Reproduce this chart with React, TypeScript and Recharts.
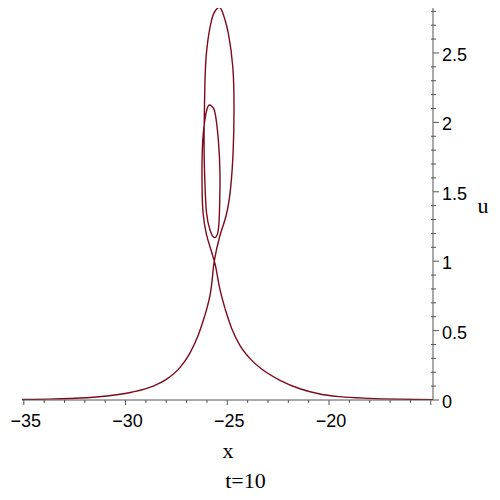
import React from "react";
import { LineChart, Line, XAxis, YAxis } from "recharts";

// u(x) at t=10, split into the left tail, the looped middle part and the right tail
const leftX = [-35.09, -33.5, -31.6, -29.7, -28.64, -27.98, -27.32, -26.83, -26.43, -26.1];
const leftU = [0.004, 0.008, 0.02, 0.056, 0.1, 0.15, 0.235, 0.34, 0.466, 0.61];

const loopX = [
  -26.1, -25.85, -25.72, -25.64, -25.38, -25.05, -24.83, -24.71, -24.67, -24.73, -24.95,
  -25.11, -25.24, -25.39, -25.57, -25.77, -26.01, -26.1, -26.13, -26.14, -26.1, -26.02,
  -25.85, -25.65, -25.46, -25.39, -25.37, -25.36, -25.44, -25.6, -25.73, -25.85,
  -26.01, -26.18, -26.24, -26.24, -26.19, -26.02, -25.8, -25.64, -25.54, -25.37, -25.11,
];
const loopU = [
  0.61, 0.754, 0.9, 1.0, 1.174, 1.333, 1.537, 1.801, 2.089, 2.401, 2.642,
  2.738, 2.795, 2.829, 2.808, 2.738, 2.522, 2.282, 2.041, 1.801, 1.561, 1.347,
  1.225, 1.171, 1.21, 1.333, 1.441, 1.633, 1.873, 2.066, 2.111, 2.125,
  2.089, 1.921, 1.729, 1.537, 1.347, 1.189, 1.081, 1.0, 0.937, 0.802, 0.658,
];

const rightX = [
  -25.11, -24.78, -24.38, -23.88, -23.23, -22.41, -21.43, -20.45, -19.47, -18.0, -16.5,
  -14.89,
];
const rightU = [
  0.658, 0.514, 0.394, 0.298, 0.214, 0.142, 0.081, 0.043, 0.024, 0.012, 0.006, 0.003,
];

const xTicks = [
  -35, -34, -33, -32, -31, -30, -29, -28, -27, -26, -25, -24, -23, -22, -21, -20,
  -19, -18, -17, -16, -15,
];
const xLabelled = [-35, -30, -25, -20];
const yTicks = [
  0, 0.1, 0.2, 0.3, 0.4, 0.5, 0.6, 0.7, 0.8, 0.9, 1, 1.1, 1.2, 1.3, 1.4, 1.5, 1.6,
  1.7, 1.8, 1.9, 2, 2.1, 2.2, 2.3, 2.4, 2.5, 2.6, 2.7, 2.8,
];

const toPoints = (xs: number[], us: number[]) => xs.map((x, i) => ({ x, u: us[i] }));
const leftData = toPoints(leftX, leftU);
const loopData = toPoints(loopX, loopU);
const rightData = toPoints(rightX, rightU);

const AXIS = "#555";
const CURVE = "#7c0a1c";

const XTick = ({ x, y, payload }: any) => {
  const v = payload.value;
  const major = v % 5 === 0;
  return (
    <g>
      <line x1={x} y1={y} x2={x} y2={y + (major ? 5 : 3)} stroke={AXIS} />
      {xLabelled.includes(v) && (
        <text
          x={x + 2}
          y={y + 27}
          textAnchor="middle"
          fontFamily="Liberation Sans, Arial, sans-serif"
          fontSize={18}
          fill="#000"
        >
          {"\u2212" + Math.abs(v)}
        </text>
      )}
    </g>
  );
};

const YTick = ({ x, y, payload }: any) => {
  const v = payload.value;
  const major = Math.abs(v * 2 - Math.round(v * 2)) < 1e-6;
  return (
    <g>
      <line
        x1={major ? x : x - 2}
        y1={y}
        x2={major ? x + 6 : x + 3}
        y2={y}
        stroke={AXIS}
      />
      {major && (
        <text
          x={x + 9}
          y={y + 8}
          textAnchor="start"
          fontFamily="Liberation Sans, Arial, sans-serif"
          fontSize={18}
          fill="#000"
        >
          {String(Math.round(v * 10) / 10)}
        </text>
      )}
    </g>
  );
};

export default function App() {
  return (
    <div style={{ position: "absolute", left: 0, top: 0, width: 500, height: 500, background: "#fff" }}>
      <LineChart width={500} height={500} margin={{ top: 8, right: 0, bottom: 0, left: 22 }}>
        <XAxis
          type="number"
          dataKey="x"
          domain={[-35.09, -14.89]}
          ticks={xTicks}
          interval={0}
          height={100}
          tickSize={0}
          tickMargin={0}
          tickLine={false}
          axisLine={{ stroke: AXIS }}
          tick={<XTick />}
          allowDataOverflow
        />
        <YAxis
          type="number"
          orientation="right"
          domain={[0, 2.824]}
          ticks={yTicks}
          interval={0}
          width={67}
          tickSize={0}
          tickMargin={0}
          tickLine={false}
          axisLine={{ stroke: AXIS }}
          tick={<YTick />}
          allowDataOverflow
        />
        <Line
          data={leftData}
          dataKey="u"
          type="monotone"
          stroke={CURVE}
          strokeWidth={1.4}
          dot={false}
          activeDot={false}
          isAnimationActive={false}
        />
        <Line
          data={loopData}
          dataKey="u"
          type="natural"
          stroke={CURVE}
          strokeWidth={1.4}
          dot={false}
          activeDot={false}
          isAnimationActive={false}
        />
        <Line
          data={rightData}
          dataKey="u"
          type="monotone"
          stroke={CURVE}
          strokeWidth={1.4}
          dot={false}
          activeDot={false}
          isAnimationActive={false}
        />
      </LineChart>
      <svg
        width={500}
        height={500}
        style={{ position: "absolute", left: 0, top: 0, pointerEvents: "none" }}
      >
        <g fontFamily="Liberation Serif, Times New Roman, serif" fontSize={22} fill="#000">
          <text x={228} y={458} textAnchor="middle">x</text>
          <text x={483} y={213} textAnchor="middle">u</text>
          <text x={245.5} y={488} textAnchor="middle">t=10</text>
        </g>
      </svg>
    </div>
  );
}
